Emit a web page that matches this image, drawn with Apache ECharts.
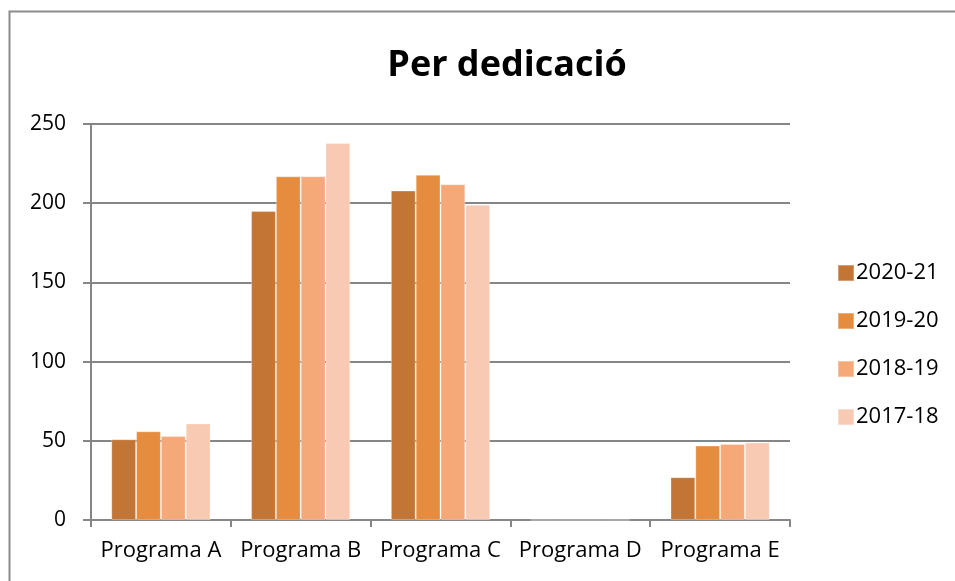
<!DOCTYPE html>
<html>
<head>
<meta charset="utf-8">
<script src="https://cdn.jsdelivr.net/npm/echarts@6/dist/echarts.min.js"></script>
<style>
html,body{margin:0;padding:0;background:#fff;}
#chart{width:955px;height:581px;}
</style>
</head>
<body>
<div id="chart"></div>
<script>
// dades
var categories = ['Programa A', 'Programa B', 'Programa C', 'Programa D', 'Programa E'];
var seriesNames = ['2020-21', '2019-20', '2018-19', '2017-18'];
var v2021 = [51, 195, 208, 0, 27];
var v1920 = [56, 217, 218, 0, 47];
var v1819 = [53, 217, 212, 0, 48];
var v1718 = [61, 238, 199, 0, 49];
var colors = ['#C27535', '#E68C3F', '#F6A978', '#F8CAB3'];

var chart = echarts.init(document.getElementById('chart'));
var font = 'Open Sans, Noto Sans, sans-serif';

function makeSeries(name, data){
	return {
		name: name,
		type: 'bar',
		data: data,
		barGap: '0%',
		barCategoryGap: '29%',
		itemStyle: { borderColor: 'rgba(255,255,255,0.3)', borderWidth: 1 }
	};
}

var option = {
	color: colors,
	animation: false,
	title: {
		text: 'Per dedicació',
		left: 502,
		textAlign: 'center',
		top: 43,
		textStyle: { fontFamily: font, fontWeight: 'bold', fontSize: 36, color: '#000' }
	},
	legend: {
		orient: 'vertical',
		left: 832,
		top: 256,
		itemWidth: 16,
		itemHeight: 16,
		itemGap: 24,
		icon: 'rect',
		textStyle: { fontFamily: font, fontSize: 22, lineHeight: 24, color: '#000', padding: [0, 0, 0, -3] },
		data: seriesNames
	},
	graphic: [{
		type: 'rect',
		shape: { x: 9.5, y: 11.5, width: 960, height: 600 },
		style: { fill: 'none', stroke: '#8c8c8c', lineWidth: 2 },
		silent: true
	}],
	grid: { left: 91, right: 165, top: 124, bottom: 61 },
	xAxis: {
		type: 'category',
		data: categories,
		axisLine: { lineStyle: { color: '#868686', width: 2 } },
		axisTick: { show: true, length: 7, lineStyle: { color: '#868686', width: 2 } },
		axisLabel: { interval: 0, fontFamily: font, fontSize: 22, color: '#000', margin: 20 }
	},
	yAxis: {
		type: 'value',
		min: 0,
		max: 250,
		interval: 50,
		axisLine: { show: true, lineStyle: { color: '#868686', width: 2 } },
		axisTick: { show: true, length: 8, lineStyle: { color: '#868686', width: 2 } },
		splitLine: { lineStyle: { color: '#868686', width: 2 } },
		axisLabel: { fontFamily: font, fontSize: 21, color: '#000', margin: 25 }
	},
	series: [
		makeSeries(seriesNames[0], v2021),
		makeSeries(seriesNames[1], v1920),
		makeSeries(seriesNames[2], v1819),
		makeSeries(seriesNames[3], v1718)
	]
};
chart.setOption(option);
</script>
</body>
</html>
